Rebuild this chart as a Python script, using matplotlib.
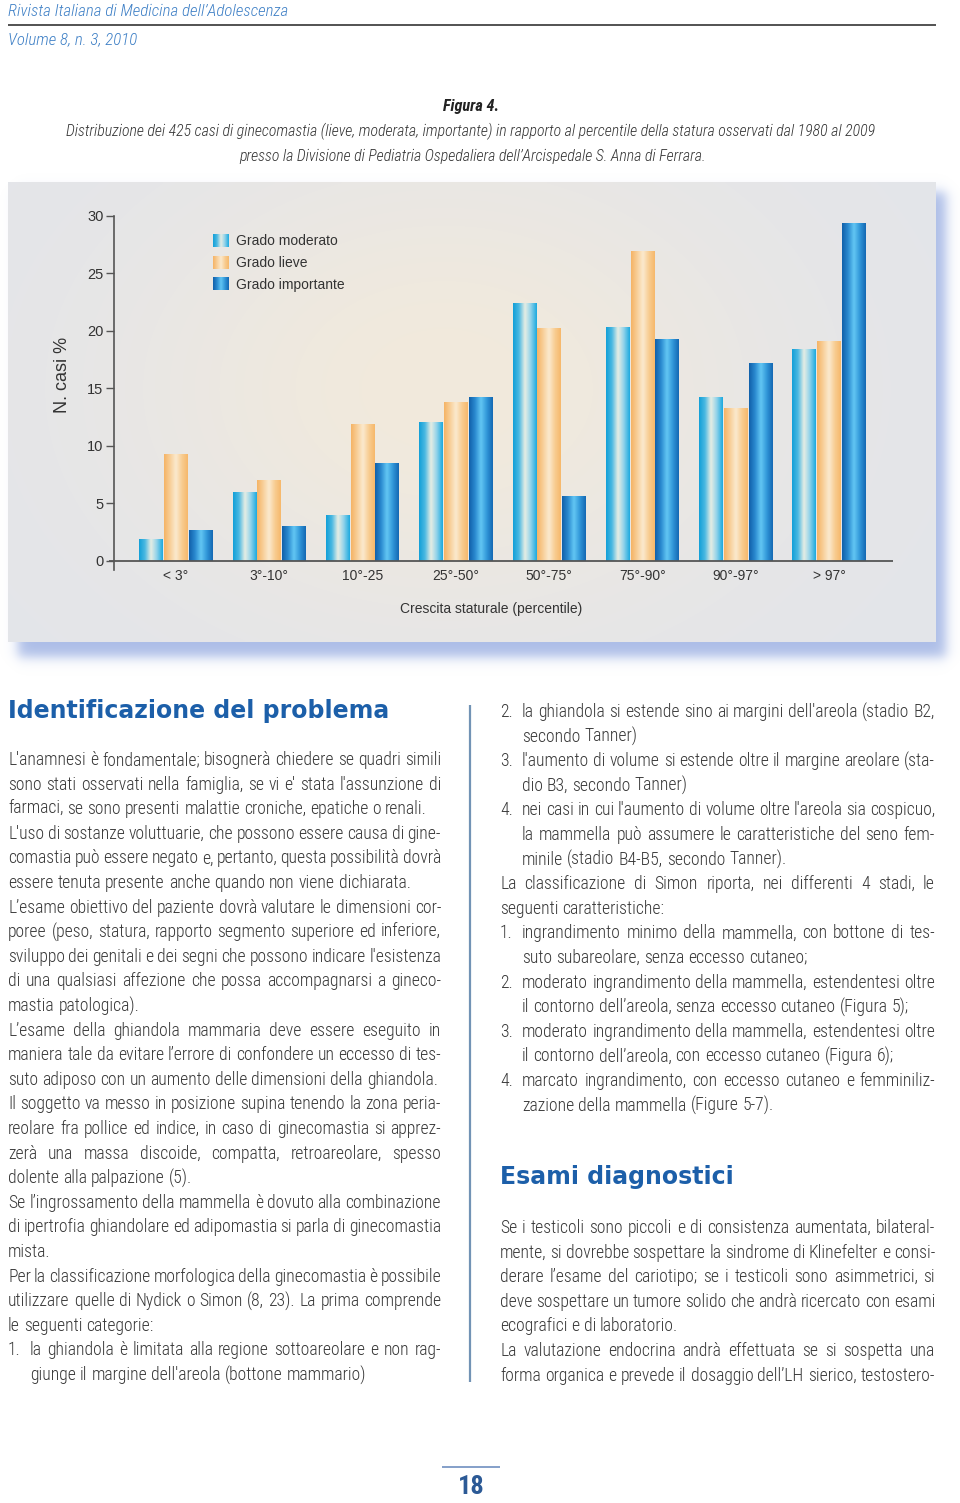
import os
import numpy as np
import matplotlib
matplotlib.use('Agg')
import matplotlib.pyplot as plt
from matplotlib.font_manager import FontProperties, fontManager
from matplotlib.colors import LinearSegmentedColormap, to_rgb
from matplotlib.patches import Patch

# ---------------- chart data ----------------
categories = ['< 3°', '3°-10°', '10°-25', '25°-50°', '50°-75°', '75°-90°', '90°-97°', '> 97°']
grado_moderato = [1.9, 6.0, 4.0, 12.1, 22.4, 20.3, 14.2, 18.4]
grado_lieve = [9.3, 7.0, 11.9, 13.8, 20.2, 26.9, 13.3, 19.1]
grado_importante = [2.7, 3.0, 8.5, 14.2, 5.6, 19.3, 17.2, 29.4]
series_labels = ['Grado moderato', 'Grado lieve', 'Grado importante']
y_ticks = [0, 5, 10, 15, 20, 25, 30]
y_label = 'N. casi %'
x_label = 'Crescita staturale (percentile)'

# ---------------- page text ----------------
header_1 = 'Rivista Italiana di Medicina dell’Adolescenza'
header_2 = 'Volume 8, n. 3, 2010'
fig_title = 'Figura 4.'
caption_1 = ('Distribuzione dei 425 casi di ginecomastia (lieve, moderata, importante) '
             'in rapporto al percentile della statura osservati dal 1980 al 2009')
caption_2 = 'presso la Divisione di Pediatria Ospedaliera dell’Arcispedale S. Anna di Ferrara.'
heading_1 = 'Identificazione del problema'
heading_2 = 'Esami diagnostici'
page_number = '18'

# (list number / indent marker, text, justified)
left_lines = [
    ('', "L'anamnesi è fondamentale; bisognerà chiedere se quadri simili", True),
    ('', "sono stati osservati nella famiglia, se vi e' stata l'assunzione di", True),
    ('', "farmaci, se sono presenti malattie croniche, epatiche o renali.", False),
    ('', "L'uso di sostanze voluttuarie, che possono essere causa di gine-", True),
    ('', "comastia può essere negato e, pertanto, questa possibilità dovrà", True),
    ('', "essere tenuta presente anche quando non viene dichiarata.", False),
    ('', "L’esame obiettivo del paziente dovrà valutare le dimensioni cor-", True),
    ('', "poree (peso, statura, rapporto segmento superiore ed inferiore,", True),
    ('', "sviluppo dei genitali e dei segni che possono indicare l'esistenza", True),
    ('', "di una qualsiasi affezione che possa accompagnarsi a gineco-", True),
    ('', "mastia patologica).", False),
    ('', "L’esame della ghiandola mammaria deve essere eseguito in", True),
    ('', "maniera tale da evitare l’errore di confondere un eccesso di tes-", True),
    ('', "suto adiposo con un aumento delle dimensioni della ghiandola.", False),
    ('', "Il soggetto va messo in posizione supina tenendo la zona peria-", True),
    ('', "reolare fra pollice ed indice, in caso di ginecomastia si apprez-", True),
    ('', "zerà una massa discoide, compatta, retroareolare, spesso", True),
    ('', "dolente alla palpazione (5).", False),
    ('', "Se l’ingrossamento della mammella è dovuto alla combinazione", True),
    ('', "di ipertrofia ghiandolare ed adipomastia si parla di ginecomastia", True),
    ('', "mista.", False),
    ('', "Per la classificazione morfologica della ginecomastia è possibile", True),
    ('', "utilizzare quelle di Nydick o Simon (8, 23). La prima comprende", True),
    ('', "le seguenti categorie:", False),
    ('1.', "la ghiandola è limitata alla regione sottoareolare e non rag-", True),
    (' ', "giunge il margine dell'areola (bottone mammario)", False),
]
right_lines_a = [
    ('2.', "la ghiandola si estende sino ai margini dell'areola (stadio B2,", True),
    (' ', "secondo Tanner)", False),
    ('3.', "l'aumento di volume si estende oltre il margine areolare (sta-", True),
    (' ', "dio B3, secondo Tanner)", False),
    ('4.', "nei casi in cui l'aumento di volume oltre l'areola sia cospicuo,", True),
    (' ', "la mammella può assumere le caratteristiche del seno fem-", True),
    (' ', "minile (stadio B4-B5, secondo Tanner).", False),
    ('', "La classificazione di Simon riporta, nei differenti 4 stadi, le", True),
    ('', "seguenti caratteristiche:", False),
    ('1.', "ingrandimento minimo della mammella, con bottone di tes-", True),
    (' ', "suto subareolare, senza eccesso cutaneo;", False),
    ('2.', "moderato ingrandimento della mammella, estendentesi oltre", True),
    (' ', "il contorno dell’areola, senza eccesso cutaneo (Figura 5);", False),
    ('3.', "moderato ingrandimento della mammella, estendentesi oltre", True),
    (' ', "il contorno dell’areola, con eccesso cutaneo (Figura 6);", False),
    ('4.', "marcato ingrandimento, con eccesso cutaneo e femminiliz-", True),
    (' ', "zazione della mammella (Figure 5-7).", False),
]
right_lines_b = [
    ('', "Se i testicoli sono piccoli e di consistenza aumentata, bilateral-", True),
    ('', "mente, si dovrebbe sospettare la sindrome di Klinefelter e consi-", True),
    ('', "derare l’esame del cariotipo; se i testicoli sono asimmetrici, si", True),
    ('', "deve sospettare un tumore solido che andrà ricercato con esami", True),
    ('', "ecografici e di laboratorio.", False),
    ('', "La valutazione endocrina andrà effettuata se si sospetta una", True),
    ('', "forma organica e prevede il dosaggio dell’LH sierico, testostero-", True),
]

# ---------------- fonts ----------------
W, H = 960, 1503
plt.rcParams['font.family'] = ['Liberation Sans', 'DejaVu Sans']

prefixes = ['LiberationSansNarrow', 'RobotoCondensed', 'Roboto_Condensed',
            'NotoSans-Condensed', 'OpenSans-Condensed', 'OpenSansCondensed',
            'DejaVuSansCondensed']
family_files = []
for p in prefixes:
    ff = sorted({f.fname for f in fontManager.ttflist
                 if os.path.basename(f.fname).startswith(p)})
    if ff:
        family_files = ff
        break


def pick(bold=False, italic=False, light=False):
    if not family_files:
        return FontProperties(family=['Liberation Sans'],
                              style='italic' if italic else 'normal',
                              weight='bold' if bold else 'normal')
    best, bs = None, -1e9
    for fn in family_files:
        stem = os.path.basename(fn).lower().rsplit('.', 1)[0]
        other = any(k in stem for k in ['semibold', 'extrabold', 'black', 'thin',
                                         'medium', 'extralight', 'semicondensed',
                                         'extracondensed', 'variable', '['])
        is_b = ('bold' in stem) and not other
        is_i = ('italic' in stem) or ('oblique' in stem)
        is_l = ('light' in stem) and not other
        sc = -10 * (is_b != bold) - 10 * (is_i != italic) - 3 * (is_l != light) - 6 * other
        if sc > bs:
            best, bs = fn, sc
    return FontProperties(fname=best)


FP_BODY = pick(light=True)
FP_ITAL = pick(italic=True, light=True)
FP_BOLDITAL = pick(bold=True, italic=True)
FP_BOLD = pick(bold=True)
FP_HEAD = FontProperties(family=['DejaVu Sans'], weight='bold')


def sized(base, size):
    p = base.copy()
    p.set_size(size)
    return p


fig = plt.figure(figsize=(W / 100, H / 100), dpi=100)
fig.patch.set_facecolor('white')
page = fig.add_axes([0, 0, 1, 1])
page.axis('off')


def soft(z):
    return 1.0 / (1.0 + np.exp(-z))


# panel shadow
xs = np.arange(0, W) + 0.5
ys = np.arange(170, 690) + 0.5
X, Y = np.meshgrid(xs, ys)
s = 3.5
mask = soft((X - 18) / s) * soft((946 - X) / s) * soft((Y - 192) / s) * soft((657 - Y) / s)
shadow = np.zeros(Y.shape + (4,))
shadow[..., :3] = to_rgb('#9db1e3')
shadow[..., 3] = 0.85 * mask
page.imshow(shadow, extent=(0, W, 690, 170), zorder=0, aspect='auto', interpolation='bilinear')

# panel background
px0, px1, py0, py1 = 8, 936, 182, 642
gx = np.linspace(0, 1, 300)
gy = np.linspace(0, 1, 160)
GX, GY = np.meshgrid(gx, gy)
warm = np.exp(-(((GX - 0.47) / 0.34) ** 2 + ((GY - 0.45) / 0.5) ** 2))[..., None]
cool = np.array(to_rgb('#e3e5ea'))
warmc = np.array(to_rgb('#f2eadc'))
bg = cool * (1 - warm) + warmc * warm
page.imshow(bg, extent=(px0, px1, py1, py0), zorder=1, aspect='auto', interpolation='bilinear')

# ---------------- chart ----------------
ax = fig.add_axes([114 / W, 1 - 570 / H, (893 - 114) / W, (570 - 215.7) / H])
ax.patch.set_alpha(0)

x = np.arange(len(categories))
offsets = [-0.265, 0.0, 0.265]
width = 0.255
series = [grado_moderato, grado_lieve, grado_importante]
grads = [
    ['#12a0d8', '#4cb9e2', '#e8eee4', '#8fd2ea', '#1caadf'],
    ['#f5b365', '#f8cf98', '#fbeacf', '#f8cd92', '#f6b86b'],
    ['#1160aa', '#2a8ad0', '#63c7f4', '#3197d9', '#1468b3'],
]
mids = ['#7ccbe6', '#f9d5a4', '#3a98d8']
gimg = np.linspace(0, 1, 64).reshape(1, -1)
for vals, off, g, mid in zip(series, offsets, grads, mids):
    bars = ax.bar(x + off, vals, width, color=mid, linewidth=0, zorder=2)
    cmap = LinearSegmentedColormap.from_list('g', g)
    for b in bars:
        x0, w, h = b.get_x(), b.get_width(), b.get_height()
        im = ax.imshow(gimg, cmap=cmap, extent=(x0, x0 + w, 0, h), aspect='auto',
                       zorder=3, interpolation='bicubic')
        im.set_clip_path(b)

ax.set_xlim(-0.665, 7.685)
ax.set_ylim(-0.81, 30)
for sp in ['top', 'right', 'bottom']:
    ax.spines[sp].set_visible(False)
ax.spines['left'].set_color('#555555')
ax.spines['left'].set_linewidth(1.2)
ax.plot([-0.72, 7.685], [0, 0], color='#555555', lw=1.3, clip_on=False, zorder=4,
        solid_capstyle='butt')
ax.set_yticks(y_ticks)
ax.tick_params(axis='y', direction='out', length=6, width=1, color='#555555',
               labelsize=10.5, labelcolor='#333333', pad=1.5)
ax.set_xticks(x)
ax.set_xticklabels(categories)
ax.tick_params(axis='x', length=0, labelsize=10, labelcolor='#333333', pad=-1)
ax.set_xlabel(x_label, fontsize=10, color='#333333')
ax.xaxis.set_label_coords((491 - 114) / 779, -(609 - 570) / 354.3)
ax.xaxis.label.set_va('center')
ax.set_ylabel(y_label, fontsize=13, color='#333333')
ax.yaxis.set_label_coords((63 - 114) / 779, (570 - 375) / 354.3)
ax.yaxis.label.set_va('center')

handles = [Patch(facecolor=m, edgecolor='none') for m in mids]
leg = ax.legend(handles, series_labels, loc='upper left',
                bbox_to_anchor=(213 / W, 1 - 233 / H), bbox_transform=fig.transFigure,
                frameon=False, fontsize=10, handlelength=1.15, handleheight=1.0,
                handletextpad=0.5, labelspacing=0.56, borderpad=0, borderaxespad=0)
for t in leg.get_texts():
    t.set_color('#333333')

page.set_xlim(0, W)
page.set_ylim(H, 0)

fig.canvas.draw()
renderer = fig.canvas.get_renderer()

# correct legend position so that first handle starts at (213, 234.5)
hb = leg.legend_handles[0].get_window_extent(renderer)
dx = 213 - hb.x0
dy = (H - 234.5) - hb.y1
leg.set_bbox_to_anchor(((213 + dx) / W, (H - 233 + dy) / H), transform=fig.transFigure)
fig.canvas.draw()

over = fig.add_axes([0, 0, 1, 1], zorder=10)
over.axis('off')
for hnd, g in zip(leg.legend_handles, grads):
    bb = hnd.get_window_extent(renderer)
    cmap = LinearSegmentedColormap.from_list('g', g)
    over.imshow(gimg, cmap=cmap, extent=(bb.x0, bb.x1, bb.y0, bb.y1), aspect='auto',
                interpolation='bicubic', zorder=2)
over.set_xlim(0, W)
over.set_ylim(0, H)

# ---------------- page text ----------------


def tw(s, fp):
    w, h, d = renderer.get_text_width_height_descent(s, fp, ismath=False)
    return w


def fit(s, target, base):
    return 20 * target / tw(s, sized(base, 20))


fp_hdr = sized(FP_ITAL, fit(header_1, 280, FP_ITAL))
page.text(8, 12, header_1, fontproperties=fp_hdr, color='#3f80c6', ha='left', va='center')
page.text(8, 40, header_2, fontproperties=fp_hdr, color='#3f80c6', ha='left', va='center')
page.plot([8, 936], [24.5, 24.5], color='#444444', lw=1.3, solid_capstyle='butt')

fp_tit = sized(FP_BOLDITAL, fit(fig_title, 56, FP_BOLDITAL))
page.text(471, 107, fig_title, fontproperties=fp_tit, color='#222222', ha='center', va='center')
fp_cap = sized(FP_ITAL, fit(caption_1, 810, FP_ITAL))
page.text(471, 131, caption_1, fontproperties=fp_cap, color='#333333', ha='center', va='center')
page.text(472.5, 156, caption_2, fontproperties=fp_cap, color='#333333', ha='center', va='center')

# headings
fp_h = sized(FP_HEAD, fit(heading_1, 382, FP_HEAD))
page.text(8, 711, heading_1, fontproperties=fp_h, color='#1c5fa9', ha='left', va='center')
page.text(500, 1177, heading_2, fontproperties=fp_h, color='#1c5fa9', ha='left', va='center')

# body
bfp = sized(FP_BODY, fit("farmaci, se sono presenti malattie croniche, epatiche o renali.",
                         419, FP_BODY))
space_w = tw('x x', bfp) - tw('xx', bfp)
BODY_COLOR = '#383838'
INDENT = 22.0
LINE = 24.6


def put_line(x0, x1, y, s, justify):
    words = s.split(' ')
    widths = [tw(wd, bfp) for wd in words]
    if justify and len(words) > 1:
        gap = (x1 - x0 - sum(widths)) / (len(words) - 1)
    else:
        gap = space_w
    xx = x0
    for wd, wdw in zip(words, widths):
        page.text(xx, y, wd, fontproperties=bfp, color=BODY_COLOR, ha='left', va='center')
        xx += wdw + gap


def put_block(lines, x0, x1, y0):
    for i, (num, s, just) in enumerate(lines):
        y = y0 + i * LINE
        if num:
            if num.strip():
                page.text(x0, y, num, fontproperties=bfp, color=BODY_COLOR,
                          ha='left', va='center')
            put_line(x0 + INDENT, x1, y, s, just)
        else:
            put_line(x0, x1, y, s, just)


put_block(left_lines, 8, 441, 760)
put_block(right_lines_a, 500, 935, 712)
put_block(right_lines_b, 500, 935, 1228)

# column separator
page.plot([470, 470], [705, 1382], color='#7293b5', lw=1.6, solid_capstyle='butt')

# page number
page.plot([442, 500], [1467, 1467], color='#6f8fc0', lw=1.2, solid_capstyle='butt')
page.text(471, 1487, page_number, fontproperties=sized(FP_BOLD, 19), color='#2c5a96',
          ha='center', va='center')

page.set_xlim(0, W)
page.set_ylim(H, 0)

fig.savefig('out.png', dpi=100, facecolor='white')
